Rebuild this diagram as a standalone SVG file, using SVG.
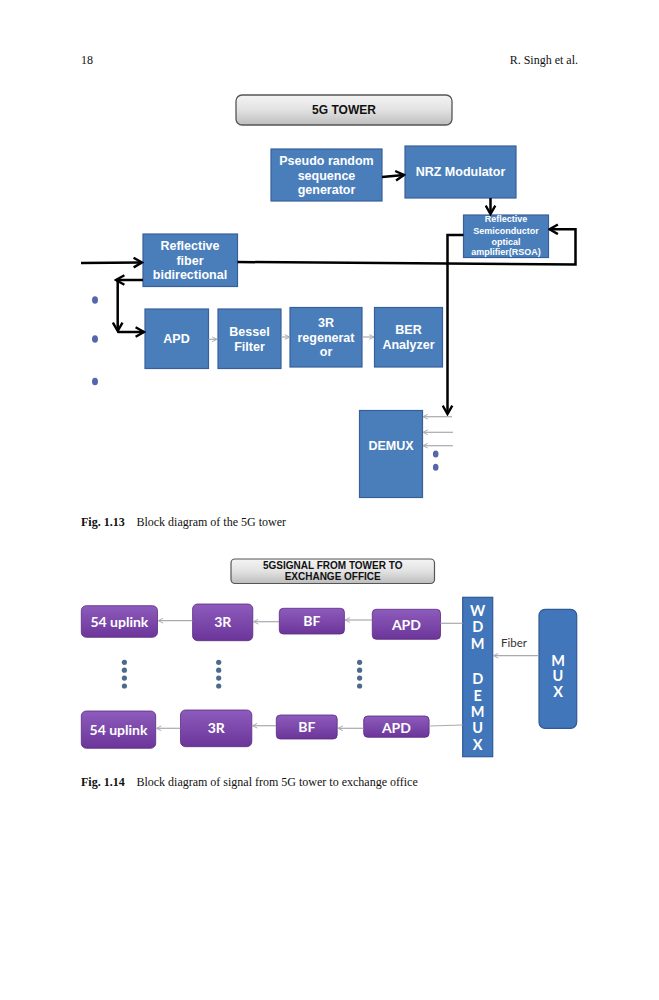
<svg xmlns="http://www.w3.org/2000/svg" width="659" height="1000" viewBox="0 0 659 1000">
<style>
.pg{font-family:"Liberation Serif","Times New Roman",serif;font-size:12px;fill:#111}
.bx{fill:#4a7ebb;stroke:#37609a;stroke-width:1.2}
.bt{font-family:"Liberation Sans",Arial,sans-serif;font-weight:bold;font-size:12.5px;fill:#fff;text-anchor:middle}
.st{font-family:"Liberation Sans",Arial,sans-serif;font-weight:bold;font-size:9px;fill:#fff;text-anchor:middle}
.tt{font-family:"Liberation Sans",Arial,sans-serif;font-weight:bold;fill:#111;text-anchor:middle}
.pb{fill:url(#pg);stroke:#5b2a80;stroke-width:0.8}
.pt{font-family:Lato,"Open Sans",sans-serif;font-weight:bold;font-size:14px;fill:#fff;text-anchor:middle}
.lt{font-family:Lato,"Open Sans",sans-serif;font-weight:bold;font-size:14.5px;fill:#fff;text-anchor:middle}
.bk{stroke:#000;stroke-width:2.5;fill:none}
.gr{stroke:#a9a9b0;stroke-width:1.2;fill:none}
.dot{fill:#5566aa}
.dot2{fill:#4b6a8c}
</style>
<defs>
<linearGradient id="gg" x1="0" y1="0" x2="0" y2="1">
<stop offset="0" stop-color="#f4f4f4"/><stop offset="0.5" stop-color="#e2e2e2"/><stop offset="1" stop-color="#bdbdbd"/>
</linearGradient>
<linearGradient id="pg" x1="0" y1="0" x2="0" y2="1">
<stop offset="0" stop-color="#8d5cbd"/><stop offset="1" stop-color="#6c3599"/>
</linearGradient>
<marker id="ah" viewBox="0 0 10 10" refX="8.5" refY="5" markerWidth="12" markerHeight="12" markerUnits="userSpaceOnUse" orient="auto">
<path d="M1.5,1 L8.5,5 L1.5,9" fill="none" stroke="#000" stroke-width="2"/>
</marker>
<marker id="ag" viewBox="0 0 10 10" refX="9" refY="5" markerWidth="6" markerHeight="6" markerUnits="userSpaceOnUse" orient="auto">
<path d="M1,1 L9,5 L1,9" fill="none" stroke="#a9a9b0" stroke-width="1.6"/>
</marker>
</defs>
<rect width="659" height="1000" fill="#fff"/>

<g id="header">
<text class="pg" x="81" y="64">18</text>
<text class="pg" x="578" y="64" text-anchor="end">R. Singh et al.</text>
</g>

<!-- Figure 1.13 -->
<g id="tower-title">
<rect x="236" y="95" width="216" height="30" rx="6" fill="url(#gg)" stroke="#555" stroke-width="1.3"/>
<text class="tt" x="344" y="113.5" font-size="12px">5G TOWER</text>
</g>
<g id="prbs">
<rect class="bx" x="271" y="149" width="111" height="52"/>
<text class="bt" x="326.5" y="165">Pseudo random</text>
<text class="bt" x="326.5" y="180">sequence</text>
<text class="bt" x="326.5" y="194">generator</text>
</g>
<g id="nrz">
<rect class="bx" x="405" y="146" width="111" height="52"/>
<text class="bt" x="460.5" y="176">NRZ Modulator</text>
</g>
<g id="rsoa">
<rect class="bx" x="463.5" y="215" width="85" height="42.5"/>
<text class="st" x="506" y="222.3">Reflective</text>
<text class="st" x="506" y="233.5">Semiconductor</text>
<text class="st" x="506" y="244.5">optical</text>
<text class="st" x="506" y="255">amplifier(RSOA)</text>
</g>
<g id="rfb">
<rect class="bx" x="143" y="234" width="94.5" height="52.5"/>
<text class="bt" x="190" y="250" font-size="12px">Reflective</text>
<text class="bt" x="190" y="265.3" font-size="12px">fiber</text>
<text class="bt" x="190" y="279.3" font-size="12px">bidirectional</text>
</g>
<g id="apd1">
<rect class="bx" x="145" y="309" width="63.5" height="59.5"/>
<text class="bt" x="176.5" y="343.3" font-size="12px">APD</text>
</g>
<g id="bessel">
<rect class="bx" x="218" y="309" width="63" height="59.5"/>
<text class="bt" x="249.5" y="336" font-size="12px">Bessel</text>
<text class="bt" x="249.5" y="351" font-size="12px">Filter</text>
</g>
<g id="regen">
<rect class="bx" x="290" y="307.5" width="72" height="59.5"/>
<text class="bt" x="326" y="327" font-size="12px">3R</text>
<text class="bt" x="326" y="342" font-size="12px">regenerat</text>
<text class="bt" x="326" y="356" font-size="12px">or</text>
</g>
<g id="ber">
<rect class="bx" x="374.5" y="307.5" width="68" height="59.5"/>
<text class="bt" x="408.5" y="334.3" font-size="12px">BER</text>
<text class="bt" x="408.5" y="349.3" font-size="12px">Analyzer</text>
</g>
<g id="demux1">
<rect class="bx" x="359.5" y="410.5" width="63" height="87"/>
<text class="bt" x="391" y="450.3" font-size="12px">DEMUX</text>
</g>
<g id="dots1">
<ellipse class="dot" cx="95" cy="300" rx="3" ry="3.8"/>
<ellipse class="dot" cx="95" cy="339" rx="3" ry="3.8"/>
<ellipse class="dot" cx="95" cy="381.5" rx="3" ry="3.8"/>
<ellipse class="dot" cx="435.7" cy="454" rx="2.8" ry="3.5"/>
<ellipse class="dot" cx="435.7" cy="467.3" rx="2.8" ry="3.5"/>
</g>

<g id="connectors1">
<line class="bk" x1="382" y1="177" x2="404" y2="175" marker-end="url(#ah)"/>
<line class="bk" x1="490.5" y1="198" x2="490.5" y2="214" marker-end="url(#ah)"/>
<line class="bk" x1="81" y1="263" x2="142" y2="262.5" marker-end="url(#ah)"/>
<polyline class="bk" points="237.5,262 575.5,264.5 575.5,229.3 549.5,229.3" marker-end="url(#ah)"/>
<polyline class="bk" points="463.5,235 447.5,235 447.5,414" marker-end="url(#ah)"/>
<line class="bk" x1="143" y1="280" x2="116" y2="280" marker-end="url(#ah)"/>
<line class="bk" x1="117.7" y1="280" x2="117.7" y2="331" marker-end="url(#ah)"/>
<line class="bk" x1="117.7" y1="332" x2="144" y2="332" marker-end="url(#ah)"/>
<line class="gr" x1="208.5" y1="339.3" x2="217" y2="339.3" marker-end="url(#ag)"/>
<line class="gr" x1="281" y1="337" x2="289.5" y2="337" marker-end="url(#ag)"/>
<line class="gr" x1="362" y1="337" x2="374" y2="337" marker-end="url(#ag)"/>
<line class="gr" x1="452" y1="416.7" x2="423" y2="416.7" marker-end="url(#ag)"/>
<line class="gr" x1="453" y1="432.3" x2="423" y2="432.3" marker-end="url(#ag)"/>
<line class="gr" x1="453" y1="445.7" x2="423" y2="445.7" marker-end="url(#ag)"/>
</g>

<g id="caption1">
<text class="pg" x="81" y="526"><tspan font-weight="bold">Fig. 1.13</tspan></text>
<text class="pg" x="136.4" y="526">Block diagram of the 5G tower</text>
</g>

<!-- Figure 1.14 -->
<g id="signal-title">
<rect x="231" y="559" width="203.5" height="24.5" rx="4" fill="url(#gg)" stroke="#555" stroke-width="1.2"/>
<text class="tt" x="332.7" y="569.3" font-size="10px">5GSIGNAL FROM TOWER TO</text>
<text class="tt" x="332.7" y="579.6" font-size="10px">EXCHANGE OFFICE</text>
</g>
<g id="uplink1">
<rect class="pb" x="81.3" y="605.7" width="76.2" height="31.6" rx="5"/>
<text class="pt" x="119.4" y="626.5">54 uplink</text>
</g>
<g id="r3a">
<rect class="pb" x="192.6" y="604" width="60.2" height="36.7" rx="5"/>
<text class="pt" x="222.7" y="627">3R</text>
</g>
<g id="bf1">
<rect class="pb" x="279.3" y="608.3" width="65.1" height="25.7" rx="4"/>
<text class="pt" x="311.8" y="625.5">BF</text>
</g>
<g id="apd2">
<rect class="pb" x="372.3" y="609.3" width="68.2" height="30" rx="4"/>
<text class="pt" x="406.4" y="630">APD</text>
</g>
<g id="uplink2">
<rect class="pb" x="81.3" y="711" width="74.4" height="37.3" rx="5"/>
<text class="pt" x="118.5" y="735">54 uplink</text>
</g>
<g id="r3b">
<rect class="pb" x="180.5" y="710" width="71.3" height="36.7" rx="5"/>
<text class="pt" x="216.2" y="733.3">3R</text>
</g>
<g id="bf2">
<rect class="pb" x="276.3" y="715" width="60.9" height="24" rx="4"/>
<text class="pt" x="306.8" y="731.5">BF</text>
</g>
<g id="apd3">
<rect class="pb" x="363.7" y="716" width="65.4" height="21.3" rx="4"/>
<text class="pt" x="396.4" y="733">APD</text>
</g>
<g id="wdm">
<rect x="462.7" y="597.3" width="30" height="159.4" fill="#4176bb" stroke="#2f5a95" stroke-width="1.2"/>
<text class="lt" x="477.7" y="615.7">W</text>
<text class="lt" x="477.7" y="632.3">D</text>
<text class="lt" x="477.7" y="649">M</text>
<text class="lt" x="477.7" y="684.3">D</text>
<text class="lt" x="477.7" y="700.7">E</text>
<text class="lt" x="477.7" y="717.3">M</text>
<text class="lt" x="477.7" y="733.3">U</text>
<text class="lt" x="477.7" y="750">X</text>
</g>
<g id="mux">
<rect x="539" y="609.3" width="37.7" height="119" rx="6" fill="#4176bb" stroke="#2f5a95" stroke-width="1.2"/>
<text class="lt" x="558" y="666" font-size="15.5px">M</text>
<text class="lt" x="558" y="681.3" font-size="15.5px">U</text>
<text class="lt" x="558" y="697" font-size="15.5px">X</text>
</g>
<g id="fiber-label">
<text x="514" y="646.5" font-family="Lato,'Open Sans',sans-serif" font-size="11.5px" fill="#333" text-anchor="middle">Fiber</text>
</g>
<g id="dots2">
<circle class="dot2" cx="124.4" cy="662.3" r="2.6"/><circle class="dot2" cx="124.4" cy="670.2" r="2.6"/><circle class="dot2" cx="124.4" cy="678.1" r="2.6"/><circle class="dot2" cx="124.4" cy="686" r="2.6"/>
<circle class="dot2" cx="218.7" cy="662.3" r="2.6"/><circle class="dot2" cx="218.7" cy="670.2" r="2.6"/><circle class="dot2" cx="218.7" cy="678.1" r="2.6"/><circle class="dot2" cx="218.7" cy="686" r="2.6"/>
<circle class="dot2" cx="359.6" cy="662.3" r="2.6"/><circle class="dot2" cx="359.6" cy="670.2" r="2.6"/><circle class="dot2" cx="359.6" cy="678.1" r="2.6"/><circle class="dot2" cx="359.6" cy="686" r="2.6"/>
</g>
<g id="connectors2">
<line class="gr" x1="538.5" y1="655.7" x2="493.5" y2="655.7" marker-end="url(#ag)"/>
<line class="gr" x1="462.7" y1="623.3" x2="440.5" y2="623.3"/>
<line class="gr" x1="372" y1="620" x2="345" y2="620" marker-end="url(#ag)"/>
<line class="gr" x1="279" y1="621.7" x2="253.5" y2="621.7" marker-end="url(#ag)"/>
<line class="gr" x1="192.3" y1="620.7" x2="158.3" y2="620.7" marker-end="url(#ag)"/>
<line class="gr" x1="462.7" y1="725" x2="429.1" y2="726"/>
<line class="gr" x1="363.5" y1="728.3" x2="338" y2="728.3" marker-end="url(#ag)"/>
<line class="gr" x1="276" y1="725.7" x2="252.5" y2="725.7" marker-end="url(#ag)"/>
<line class="gr" x1="180.3" y1="728.3" x2="156.5" y2="728.3" marker-end="url(#ag)"/>
</g>

<g id="caption2">
<text class="pg" x="81" y="786"><tspan font-weight="bold">Fig. 1.14</tspan></text>
<text class="pg" x="136.4" y="786">Block diagram of signal from 5G tower to exchange office</text>
</g>
</svg>
